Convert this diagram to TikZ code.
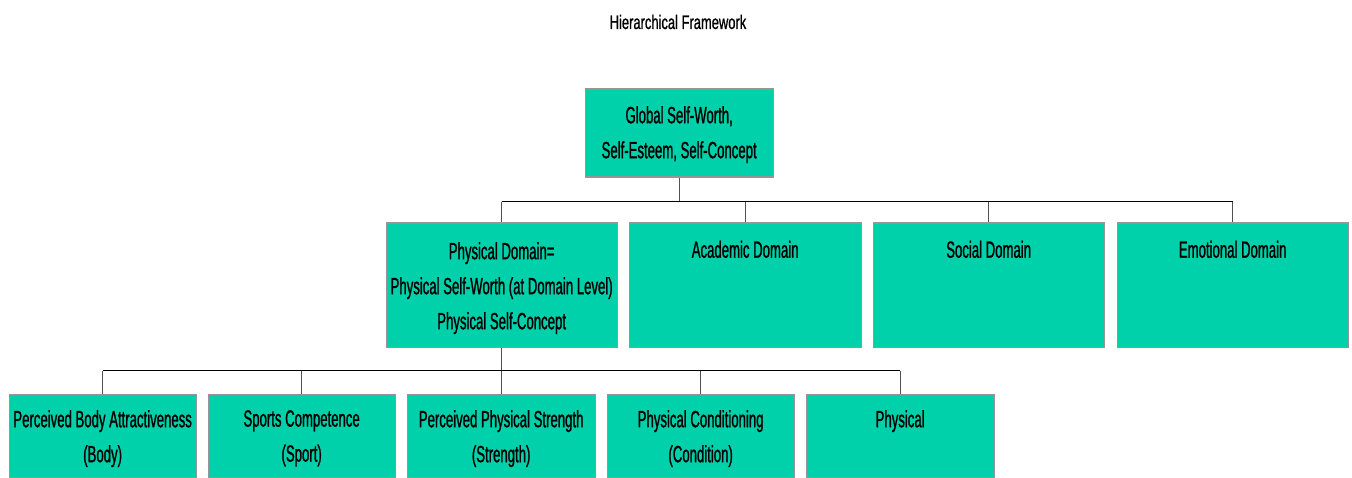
\documentclass[tikz,border=0pt]{standalone}
\usepackage{fontspec}
\setmainfont{Liberation Sans}
\newfontfamily\boxfont[FakeStretch=0.56,FakeBold=1]{Liberation Sans}
\newfontfamily\titlefont[FakeStretch=0.66,FakeBold=0.8]{Liberation Sans}
\definecolor{boxfill}{RGB}{0,209,170}
\definecolor{boxline}{RGB}{150,150,150}
\definecolor{vconn}{RGB}{80,80,80}
\begin{document}
\begin{tikzpicture}[x=1pt,y=-1pt,
  box/.style={draw=boxline, line width=1.3pt, fill=boxfill, anchor=north west,
    inner sep=0pt},
  lvtwo/.style={box, minimum height=124pt},
  lvthree/.style={box, minimum height=83pt},
  boxtext/.style={align=center, inner sep=0pt, anchor=north, yshift=#1,
    font={\boxfont\fontsize{23.5}{35}\selectfont}},
  hline/.style={draw=black, line width=1.3pt},
  vline/.style={draw=vconn, line width=1pt}]
\useasboundingbox (0,0) rectangle (1352,478);

\node[font={\titlefont\fontsize{19.6}{24}\selectfont}, anchor=base] (title) at (678,29) {Hierarchical Framework};

\node[box, minimum width=188pt, minimum height=88pt,
  label={[boxtext=-17.5pt]north:{Global Self-Worth,\\Self-Esteem, Self-Concept}}]
  (g) at (584.5,88.5) {};

\node[lvtwo, minimum width=231pt,
  label={[boxtext=-19.5pt]north:{Physical Domain=\\Physical Self-Worth (at Domain Level)\\Physical Self-Concept}}]
  (phys) at (385.5,222.5) {};
\node[lvtwo, minimum width=232pt,
  label={[boxtext=-18pt]north:{Academic Domain}}]
  (acad) at (628.5,222.5) {};
\node[lvtwo, minimum width=231pt,
  label={[boxtext=-18pt]north:{Social Domain}}]
  (soc) at (872.5,222.5) {};
\node[lvtwo, minimum width=231pt,
  label={[boxtext=-18pt]north:{Emotional Domain}}]
  (emo) at (1116.5,222.5) {};

\node[lvthree, minimum width=187pt,
  label={[boxtext=-16.5pt]north:{Perceived Body Attractiveness\\(Body)}}]
  (body) at (8.5,393.5) {};
\node[lvthree, minimum width=187pt,
  label={[boxtext=-16.5pt]north:{Sports Competence\\(Sport)}}]
  (sport) at (207.5,393.5) {};
\node[lvthree, minimum width=188pt,
  label={[boxtext=-16.5pt]north:{Perceived Physical Strength\\(Strength)}}]
  (str) at (406.5,393.5) {};
\node[lvthree, minimum width=187pt,
  label={[boxtext=-16.5pt]north:{Physical Conditioning\\(Condition)}}]
  (cond) at (606.5,393.5) {};
\node[lvthree, minimum width=188pt,
  label={[boxtext=-16.5pt]north:{Physical}}]
  (phy) at (805.5,393.5) {};

% connectors level 1 -> 2
\path (g.south) ++(0,24) coordinate (j1);
\draw[vline] (g.south) -- (j1);
\draw[hline] (j1 -| phys.north) -- (j1 -| emo.north);
\foreach \n in {phys,acad,soc,emo}
  \draw[vline] (j1 -| \n.north) -- (\n.north);

% connectors level 2 -> 3
\path (phys.south) ++(0,23) coordinate (j2);
\draw[vline] (phys.south) -- (j2);
\draw[hline] (j2 -| body.north) -- (j2 -| phy.north);
\foreach \n in {body,sport,str,cond,phy}
  \draw[vline] (j2 -| \n.north) -- (\n.north);
\end{tikzpicture}
\end{document}
